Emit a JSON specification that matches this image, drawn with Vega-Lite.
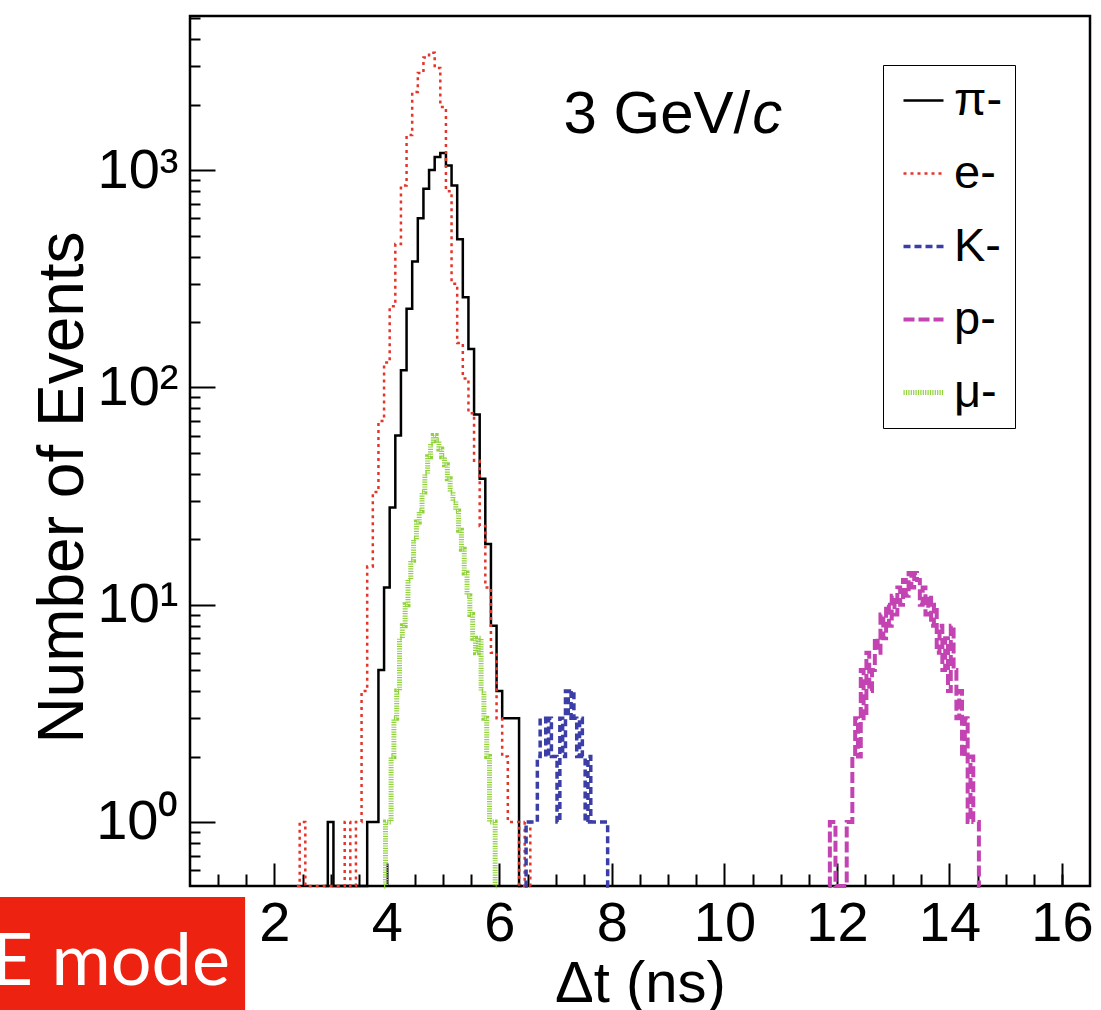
{
  "$schema": "https://vega.github.io/schema/vega-lite/v6.json",
  "width": 900,
  "height": 870,
  "autosize": {"type": "none"},
  "padding": {"left": 190, "top": 16, "right": 11, "bottom": 124},
  "background": "white",
  "config": {
    "view": {"stroke": "black", "strokeWidth": 2.5},
    "font": "Liberation Sans",
    "axis": {"grid": false, "domain": false, "tickColor": "black", "tickWidth": 2, "labelColor": "black", "titleColor": "black", "labelFont": "Liberation Sans", "titleFont": "Liberation Sans", "titleFontWeight": "normal"}
  },
  "datasets": {
    "hist": [
      {"particle": "π-", "t": 2.9, "n": 0}, {"particle": "π-", "t": 3.0, "n": 1}, {"particle": "π-", "t": 3.1, "n": 0},
      {"particle": "π-", "t": 3.6, "n": 0}, {"particle": "π-", "t": 3.7, "n": 1}, {"particle": "π-", "t": 3.8, "n": 1},
      {"particle": "π-", "t": 3.9, "n": 5}, {"particle": "π-", "t": 4.0, "n": 12}, {"particle": "π-", "t": 4.1, "n": 28},
      {"particle": "π-", "t": 4.2, "n": 60}, {"particle": "π-", "t": 4.3, "n": 120}, {"particle": "π-", "t": 4.4, "n": 230},
      {"particle": "π-", "t": 4.5, "n": 380}, {"particle": "π-", "t": 4.6, "n": 600}, {"particle": "π-", "t": 4.7, "n": 820},
      {"particle": "π-", "t": 4.8, "n": 1000}, {"particle": "π-", "t": 4.9, "n": 1150}, {"particle": "π-", "t": 5.0, "n": 1200},
      {"particle": "π-", "t": 5.1, "n": 1050}, {"particle": "π-", "t": 5.2, "n": 850}, {"particle": "π-", "t": 5.3, "n": 480},
      {"particle": "π-", "t": 5.4, "n": 260}, {"particle": "π-", "t": 5.5, "n": 150}, {"particle": "π-", "t": 5.6, "n": 75},
      {"particle": "π-", "t": 5.7, "n": 38}, {"particle": "π-", "t": 5.8, "n": 19}, {"particle": "π-", "t": 5.9, "n": 8},
      {"particle": "π-", "t": 6.0, "n": 4}, {"particle": "π-", "t": 6.1, "n": 3}, {"particle": "π-", "t": 6.2, "n": 3},
      {"particle": "π-", "t": 6.3, "n": 3}, {"particle": "π-", "t": 6.4, "n": 0},

      {"particle": "e-", "t": 2.4, "n": 0}, {"particle": "e-", "t": 2.5, "n": 1}, {"particle": "e-", "t": 2.6, "n": 0},
      {"particle": "e-", "t": 3.2, "n": 0}, {"particle": "e-", "t": 3.3, "n": 1}, {"particle": "e-", "t": 3.4, "n": 0},
      {"particle": "e-", "t": 3.5, "n": 1}, {"particle": "e-", "t": 3.6, "n": 4}, {"particle": "e-", "t": 3.7, "n": 15},
      {"particle": "e-", "t": 3.8, "n": 33}, {"particle": "e-", "t": 3.9, "n": 70}, {"particle": "e-", "t": 4.0, "n": 130},
      {"particle": "e-", "t": 4.1, "n": 236}, {"particle": "e-", "t": 4.2, "n": 457}, {"particle": "e-", "t": 4.3, "n": 850},
      {"particle": "e-", "t": 4.4, "n": 1450}, {"particle": "e-", "t": 4.5, "n": 2290}, {"particle": "e-", "t": 4.6, "n": 2800},
      {"particle": "e-", "t": 4.7, "n": 3300}, {"particle": "e-", "t": 4.8, "n": 3470}, {"particle": "e-", "t": 4.9, "n": 2950},
      {"particle": "e-", "t": 5.0, "n": 1950}, {"particle": "e-", "t": 5.1, "n": 800}, {"particle": "e-", "t": 5.2, "n": 300},
      {"particle": "e-", "t": 5.3, "n": 160}, {"particle": "e-", "t": 5.4, "n": 110}, {"particle": "e-", "t": 5.5, "n": 76},
      {"particle": "e-", "t": 5.6, "n": 46}, {"particle": "e-", "t": 5.7, "n": 23}, {"particle": "e-", "t": 5.8, "n": 12},
      {"particle": "e-", "t": 5.9, "n": 6}, {"particle": "e-", "t": 6.0, "n": 3}, {"particle": "e-", "t": 6.1, "n": 2},
      {"particle": "e-", "t": 6.2, "n": 1}, {"particle": "e-", "t": 6.3, "n": 1}, {"particle": "e-", "t": 6.4, "n": 0},
      {"particle": "e-", "t": 6.5, "n": 1}, {"particle": "e-", "t": 6.6, "n": 0},

      {"particle": "K-", "t": 6.45, "n": 0}, {"particle": "K-", "t": 6.5, "n": 1}, {"particle": "K-", "t": 6.55, "n": 1},
      {"particle": "K-", "t": 6.6, "n": 1}, {"particle": "K-", "t": 6.65, "n": 1}, {"particle": "K-", "t": 6.7, "n": 2},
      {"particle": "K-", "t": 6.75, "n": 3}, {"particle": "K-", "t": 6.8, "n": 3}, {"particle": "K-", "t": 6.85, "n": 2},
      {"particle": "K-", "t": 6.9, "n": 3}, {"particle": "K-", "t": 6.95, "n": 2}, {"particle": "K-", "t": 7.0, "n": 2},
      {"particle": "K-", "t": 7.05, "n": 1}, {"particle": "K-", "t": 7.1, "n": 3}, {"particle": "K-", "t": 7.15, "n": 2},
      {"particle": "K-", "t": 7.2, "n": 4}, {"particle": "K-", "t": 7.25, "n": 3}, {"particle": "K-", "t": 7.3, "n": 4},
      {"particle": "K-", "t": 7.35, "n": 3}, {"particle": "K-", "t": 7.4, "n": 2}, {"particle": "K-", "t": 7.45, "n": 3},
      {"particle": "K-", "t": 7.5, "n": 2}, {"particle": "K-", "t": 7.55, "n": 1}, {"particle": "K-", "t": 7.6, "n": 2},
      {"particle": "K-", "t": 7.65, "n": 1}, {"particle": "K-", "t": 7.7, "n": 1}, {"particle": "K-", "t": 7.75, "n": 1},
      {"particle": "K-", "t": 7.8, "n": 1}, {"particle": "K-", "t": 7.85, "n": 1}, {"particle": "K-", "t": 7.9, "n": 1},
      {"particle": "K-", "t": 7.95, "n": 0},

      {"particle": "p-", "t": 11.85, "n": 0}, {"particle": "p-", "t": 11.9, "n": 1}, {"particle": "p-", "t": 11.95, "n": 1},
      {"particle": "p-", "t": 12.0, "n": 0}, {"particle": "p-", "t": 12.15, "n": 0}, {"particle": "p-", "t": 12.2, "n": 1},
      {"particle": "p-", "t": 12.25, "n": 1}, {"particle": "p-", "t": 12.3, "n": 2}, {"particle": "p-", "t": 12.35, "n": 3},
      {"particle": "p-", "t": 12.4, "n": 2}, {"particle": "p-", "t": 12.45, "n": 5}, {"particle": "p-", "t": 12.5, "n": 3},
      {"particle": "p-", "t": 12.55, "n": 6}, {"particle": "p-", "t": 12.6, "n": 4}, {"particle": "p-", "t": 12.65, "n": 5},
      {"particle": "p-", "t": 12.7, "n": 7}, {"particle": "p-", "t": 12.75, "n": 6}, {"particle": "p-", "t": 12.8, "n": 9},
      {"particle": "p-", "t": 12.85, "n": 7}, {"particle": "p-", "t": 12.9, "n": 10}, {"particle": "p-", "t": 12.95, "n": 8},
      {"particle": "p-", "t": 13.0, "n": 11}, {"particle": "p-", "t": 13.05, "n": 9}, {"particle": "p-", "t": 13.1, "n": 12},
      {"particle": "p-", "t": 13.15, "n": 10}, {"particle": "p-", "t": 13.2, "n": 13}, {"particle": "p-", "t": 13.25, "n": 11},
      {"particle": "p-", "t": 13.3, "n": 14}, {"particle": "p-", "t": 13.35, "n": 12}, {"particle": "p-", "t": 13.4, "n": 14},
      {"particle": "p-", "t": 13.45, "n": 13}, {"particle": "p-", "t": 13.5, "n": 10}, {"particle": "p-", "t": 13.55, "n": 12},
      {"particle": "p-", "t": 13.6, "n": 9}, {"particle": "p-", "t": 13.65, "n": 11}, {"particle": "p-", "t": 13.7, "n": 8},
      {"particle": "p-", "t": 13.75, "n": 10}, {"particle": "p-", "t": 13.8, "n": 6}, {"particle": "p-", "t": 13.85, "n": 8},
      {"particle": "p-", "t": 13.9, "n": 5}, {"particle": "p-", "t": 13.95, "n": 7}, {"particle": "p-", "t": 14.0, "n": 4},
      {"particle": "p-", "t": 14.05, "n": 8}, {"particle": "p-", "t": 14.1, "n": 5}, {"particle": "p-", "t": 14.15, "n": 3},
      {"particle": "p-", "t": 14.2, "n": 4}, {"particle": "p-", "t": 14.25, "n": 2}, {"particle": "p-", "t": 14.3, "n": 3},
      {"particle": "p-", "t": 14.35, "n": 1}, {"particle": "p-", "t": 14.4, "n": 2}, {"particle": "p-", "t": 14.45, "n": 1},
      {"particle": "p-", "t": 14.5, "n": 1}, {"particle": "p-", "t": 14.55, "n": 0},

      {"particle": "μ-", "t": 3.95, "n": 0}, {"particle": "μ-", "t": 4.0, "n": 1}, {"particle": "μ-", "t": 4.05, "n": 1},
      {"particle": "μ-", "t": 4.1, "n": 2}, {"particle": "μ-", "t": 4.15, "n": 3}, {"particle": "μ-", "t": 4.2, "n": 4},
      {"particle": "μ-", "t": 4.25, "n": 7}, {"particle": "μ-", "t": 4.3, "n": 8}, {"particle": "μ-", "t": 4.35, "n": 10},
      {"particle": "μ-", "t": 4.4, "n": 13}, {"particle": "μ-", "t": 4.45, "n": 16}, {"particle": "μ-", "t": 4.5, "n": 20},
      {"particle": "μ-", "t": 4.55, "n": 24}, {"particle": "μ-", "t": 4.6, "n": 27}, {"particle": "μ-", "t": 4.65, "n": 33},
      {"particle": "μ-", "t": 4.7, "n": 40}, {"particle": "μ-", "t": 4.75, "n": 48}, {"particle": "μ-", "t": 4.8, "n": 55},
      {"particle": "μ-", "t": 4.85, "n": 60}, {"particle": "μ-", "t": 4.9, "n": 57}, {"particle": "μ-", "t": 4.95, "n": 52},
      {"particle": "μ-", "t": 5.0, "n": 48}, {"particle": "μ-", "t": 5.05, "n": 44}, {"particle": "μ-", "t": 5.1, "n": 38},
      {"particle": "μ-", "t": 5.15, "n": 33}, {"particle": "μ-", "t": 5.2, "n": 30}, {"particle": "μ-", "t": 5.25, "n": 27},
      {"particle": "μ-", "t": 5.3, "n": 22}, {"particle": "μ-", "t": 5.35, "n": 18}, {"particle": "μ-", "t": 5.4, "n": 14},
      {"particle": "μ-", "t": 5.45, "n": 11}, {"particle": "μ-", "t": 5.5, "n": 9}, {"particle": "μ-", "t": 5.55, "n": 7},
      {"particle": "μ-", "t": 5.6, "n": 6}, {"particle": "μ-", "t": 5.65, "n": 7}, {"particle": "μ-", "t": 5.7, "n": 4},
      {"particle": "μ-", "t": 5.75, "n": 3}, {"particle": "μ-", "t": 5.8, "n": 2}, {"particle": "μ-", "t": 5.85, "n": 1},
      {"particle": "μ-", "t": 5.9, "n": 1}, {"particle": "μ-", "t": 5.95, "n": 0}
    ]
  },
  "resolve": {"scale": {"y": "independent"}, "axis": {"x": "independent", "y": "independent"}},
  "layer": [
    {
      "data": {"name": "hist"},
      "mark": {"type": "line", "interpolate": "step", "invalid": "show"},
      "encoding": {
        "x": {"field": "t", "type": "quantitative",
          "scale": {"domain": [0.5, 16.5], "nice": false, "zero": false},
          "axis": {"orient": "bottom", "values": [1, 1.5, 2.5, 3, 3.5, 4.5, 5, 5.5, 6.5, 7, 7.5, 8.5, 9, 9.5, 10.5, 11, 11.5, 12.5, 13, 13.5, 14.5, 15, 15.5, 16], "tickSize": -12, "labels": false, "title": null}},
        "y": {"field": "n", "type": "quantitative",
          "scale": {"type": "log", "domain": [0.507, 5120], "clamp": true, "nice": false},
          "axis": {"orient": "left", "values": [0.6, 0.7, 0.8, 0.9, 2, 3, 4, 5, 6, 7, 8, 9, 20, 30, 40, 50, 60, 70, 80, 90, 200, 300, 400, 500, 600, 700, 800, 900, 2000, 3000, 4000, 5000], "tickSize": -10, "labels": false, "title": null}},
        "color": {"field": "particle", "type": "nominal",
          "scale": {"domain": ["π-", "e-", "K-", "p-", "μ-"], "range": ["#000000", "#e4352b", "#3b3ea6", "#c443b3", "#8fd23c"]},
          "legend": {"orient": "none", "legendX": 693, "legendY": 49, "title": null, "padding": 12, "symbolOffset": 5,
            "symbolType": "stroke", "symbolSize": 1600, "symbolStrokeWidth": 2.5, "labelFontSize": 47, "labelFont": "Liberation Sans",
            "labelColor": "black", "labelOffset": 7, "rowPadding": 25, "strokeColor": "black", "fillColor": "white", "labelLimit": 300}},
        "strokeDash": {"field": "particle", "type": "nominal",
          "scale": {"domain": ["π-", "e-", "K-", "p-", "μ-"], "range": [[1, 0], [3, 4], [7, 4], [11, 4], [1.2, 1.2]]},
          "legend": null},
        "strokeWidth": {"field": "particle", "type": "ordinal",
          "scale": {"type": "ordinal", "domain": ["π-", "e-", "K-", "p-", "μ-"], "range": [2.5, 2.5, 3.5, 4, 5]},
          "legend": null}
      }
    },
    {
      "data": {"values": [{}]},
      "mark": {"type": "text", "text": "3 GeV/", "align": "right", "baseline": "alphabetic", "fontSize": 60, "font": "Liberation Sans", "color": "black"},
      "encoding": {
        "x": {"datum": 10.46, "type": "quantitative",
          "scale": {"domain": [0.5, 16.5], "nice": false, "zero": false},
          "axis": {"orient": "bottom", "values": [2, 4, 6, 8, 10, 12, 14, 16], "ticks": false, "labelFontSize": 56, "labelPadding": 10,
            "title": "Δt (ns)", "titleFontSize": 58, "titleBaseline": "alphabetic", "titleAlign": "center", "titleX": 450, "titleY": 115}},
        "y": {"datum": 1480, "type": "quantitative",
          "scale": {"type": "log", "domain": [0.507, 5120], "nice": false},
          "axis": {"orient": "left", "values": [1, 10, 100, 1000], "ticks": false, "labelFontSize": 56, "labelPadding": 12, "labelBaseline": "middle",
            "labelExpr": "datum.value == 1 ? '10⁰' : datum.value == 10 ? '10¹' : datum.value == 100 ? '10²' : '10³'",
            "title": "Number of Events", "titleFontSize": 64, "titleAngle": -90, "titleBaseline": "alphabetic", "titleAlign": "center", "titleX": -108, "titleY": 471}}
      }
    },
    {
      "data": {"values": [{}]},
      "mark": {"type": "text", "text": "c", "align": "left", "baseline": "alphabetic", "fontSize": 60, "font": "Liberation Sans", "fontStyle": "italic", "color": "black", "dx": 2},
      "encoding": {
        "x": {"datum": 10.46, "type": "quantitative",
          "scale": {"domain": [0.5, 16.5], "nice": false, "zero": false},
          "axis": {"orient": "bottom", "values": [2, 4, 6, 8, 10, 12, 14, 16], "tickSize": -23, "labels": false, "title": null}},
        "y": {"datum": 1480, "type": "quantitative",
          "scale": {"type": "log", "domain": [0.507, 5120], "nice": false},
          "axis": {"orient": "left", "values": [1, 10, 100, 1000], "tickSize": -25, "labels": false, "title": null}}
      }
    },
    {
      "data": {"values": [{}]},
      "mark": {"type": "rect", "color": "#ee2211", "clip": false},
      "encoding": {
        "x": {"datum": -2.88, "type": "quantitative", "scale": {"domain": [0.5, 16.5], "nice": false, "zero": false}, "axis": null},
        "x2": {"datum": 1.48},
        "y": {"datum": 0.4513, "type": "quantitative", "scale": {"type": "log", "domain": [0.507, 5120], "nice": false}, "axis": null},
        "y2": {"datum": 0.136}
      }
    },
    {
      "data": {"values": [{}]},
      "mark": {"type": "text", "text": "E mode", "align": "right", "baseline": "alphabetic", "fontSize": 72, "font": "Lato", "color": "white", "clip": false},
      "encoding": {
        "x": {"datum": 1.21, "type": "quantitative", "scale": {"domain": [0.5, 16.5], "nice": false, "zero": false}, "axis": null},
        "y": {"datum": 0.1774, "type": "quantitative", "scale": {"type": "log", "domain": [0.507, 5120], "nice": false}, "axis": null}
      }
    }
  ]
}
